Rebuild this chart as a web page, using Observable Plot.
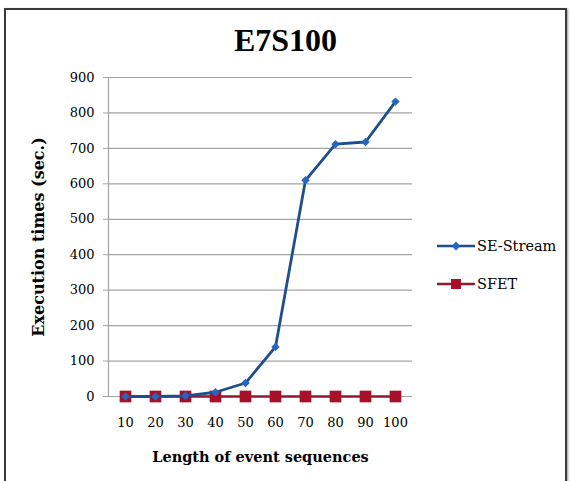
<!DOCTYPE html>
<html>
<head>
<meta charset="utf-8">
<script src="https://cdn.jsdelivr.net/npm/d3@7"></script>
<script src="https://cdn.jsdelivr.net/npm/@observablehq/plot@0.6"></script>
<style>
  html, body { margin: 0; padding: 0; background: #fff; }
  #wrap { position: relative; width: 571px; height: 481px; overflow: hidden; font-family: "DejaVu Serif", serif; }
  #box { position: absolute; left: 4px; top: 8px; width: 559px; height: 480px; border: 2px solid #3a3a3a; border-bottom: none; box-shadow: 1px 1px 2px #999; }
  #title { position: absolute; left: 0; width: 571px; top: 22px; text-align: center; font-family: "Liberation Serif", serif; font-weight: bold; font-size: 32px; color: #000; }
  #chart { position: absolute; left: 0; top: 0; }
  .leg { position: absolute; left: 436px; font-size: 14.5px; display: flex; align-items: center; color: #000; }
  .leg svg { margin-right: 1px; }
</style>
</head>
<body>
<div id="wrap">
  <div id="box"></div>
  <div id="chart"></div>
  <div id="title">E7S100</div>
  <div class="leg" style="top:238px"><svg width="40" height="16"><line x1="1" y1="8" x2="39" y2="8" stroke="#1f4e8c" stroke-width="2.5"/><path d="M20,3.5 L24.5,8 L20,12.5 L15.5,8 Z" fill="#2466c0"/></svg>SE-Stream</div>
  <div class="leg" style="top:276px"><svg width="40" height="16"><line x1="1" y1="8" x2="39" y2="8" stroke="#8e1a2e" stroke-width="2.5"/><rect x="15" y="3" width="10" height="10" fill="#a8102a"/></svg>SFET</div>
</div>
<script>
const categories = ["10", "20", "30", "40", "50", "60", "70", "80", "90", "100"];
const seStream = [0, 0, 2, 12, 38, 140, 610, 712, 718, 832];
const sfet = [0, 0, 0, 0, 0, 0, 0, 0, 0, 0];
const yTicks = [0, 100, 200, 300, 400, 500, 600, 700, 800, 900];

const rowsSE = categories.map((c, i) => ({x: c, y: seStream[i]}));
const rowsSF = categories.map((c, i) => ({x: c, y: sfet[i]}));

const chart = Plot.plot({
  width: 571,
  height: 481,
  marginLeft: 108,
  marginRight: 159,
  marginTop: 77,
  marginBottom: 85,
  style: {fontFamily: "DejaVu Serif, serif", fontSize: "13px", background: "transparent", color: "#000"},
  x: {type: "point", domain: categories, padding: 0.5, label: null},
  y: {domain: [0, 900], ticks: yTicks, label: null},
  marks: [
    Plot.ruleY(yTicks, {stroke: "#a3a3a3", strokeWidth: 1.2}),
    Plot.frame({anchor: "left", stroke: "#a3a3a3", strokeWidth: 1.2}),
    Plot.axisY({ticks: yTicks, tickSize: 5, tickPadding: 9, stroke: "#a3a3a3", fontSize: 13,
      label: "Execution times (sec.)", labelAnchor: "center", labelOffset: 76, labelArrow: "none"}),
    Plot.axisX({tickSize: 0, tickPadding: 21, fontSize: 13,
      label: "Length of event sequences", labelAnchor: "center", labelOffset: 65, labelArrow: "none"}),
    Plot.line(rowsSF, {x: "x", y: "y", stroke: "#8e1a2e", strokeWidth: 2.5}),
    Plot.dot(rowsSF, {x: "x", y: "y", symbol: "square", r: 6.6, fill: "#a8102a", stroke: "none"}),
    Plot.line(rowsSE, {x: "x", y: "y", stroke: "#1f4e8c", strokeWidth: 2.8}),
    Plot.dot(rowsSE, {x: "x", y: "y", symbol: "diamond2", r: 3.8, fill: "#2466c0", stroke: "none"})
  ]
});
document.getElementById("chart").appendChild(chart);
chart.querySelectorAll("g[aria-label='x-axis label'] text").forEach(t => {
  t.setAttribute("font-weight", "bold");
  t.setAttribute("font-size", "14.5");
});
chart.querySelectorAll("g[aria-label='y-axis label'] text").forEach(t => {
  t.setAttribute("font-weight", "bold");
  t.setAttribute("font-size", "16");
});
</script>
</body>
</html>
